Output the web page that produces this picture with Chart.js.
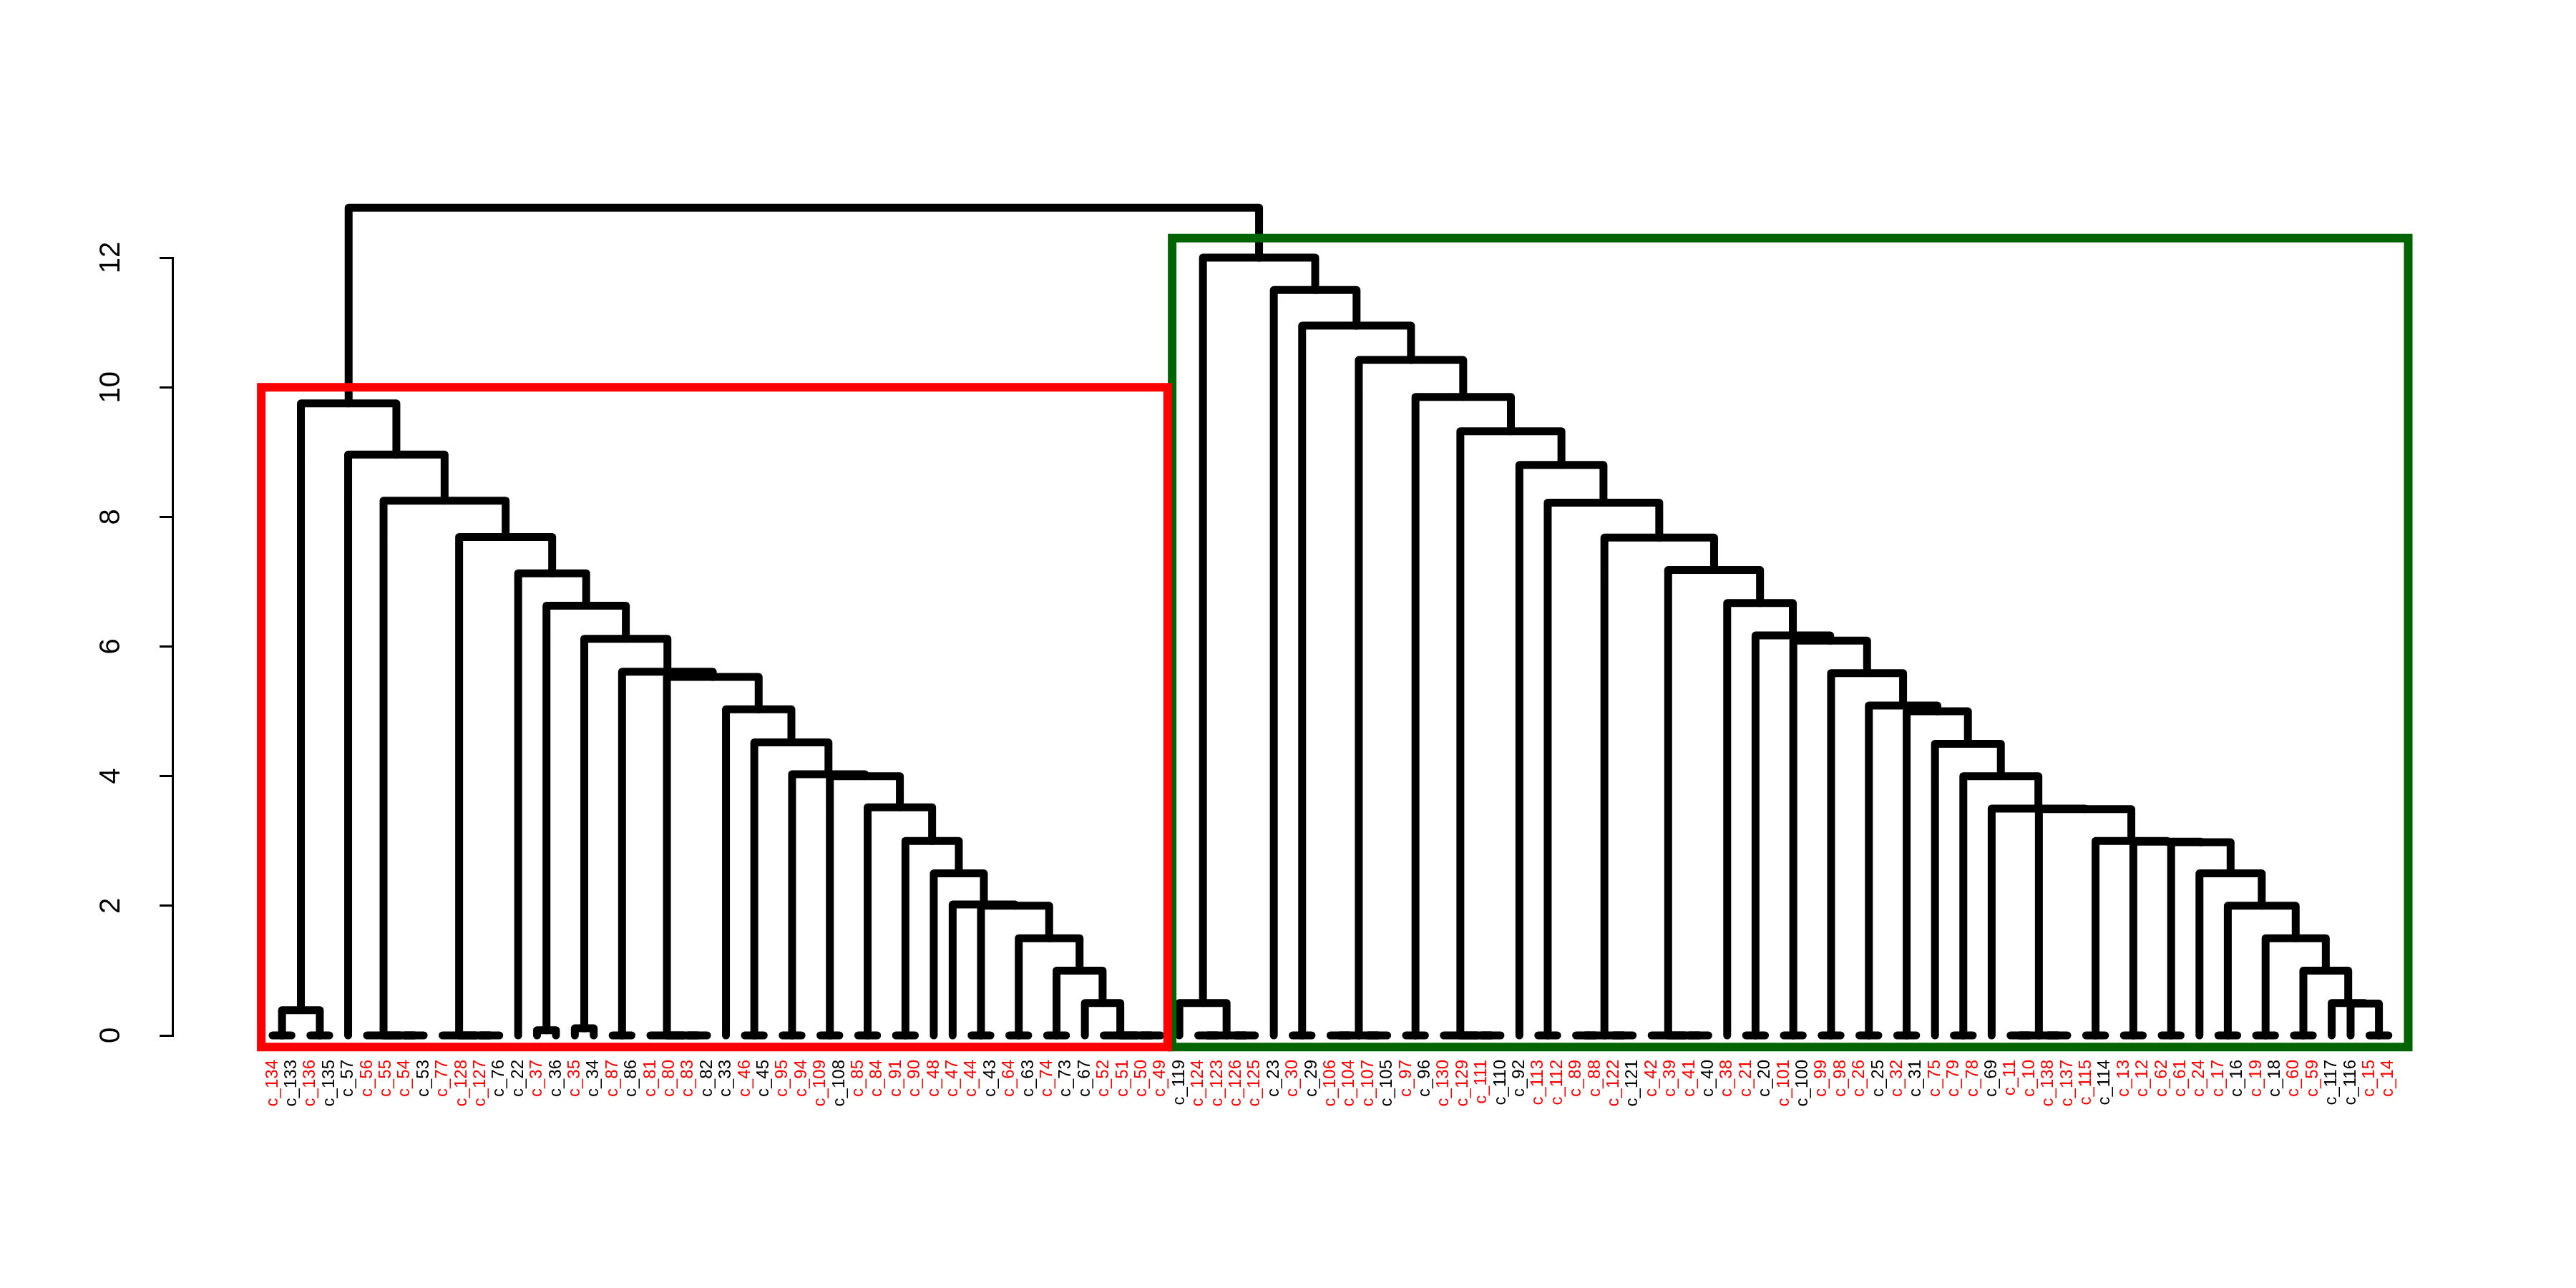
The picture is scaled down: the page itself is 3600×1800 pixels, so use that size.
<!DOCTYPE html>
<html>
<head>
<meta charset="utf-8">
<script src="https://cdn.jsdelivr.net/npm/chart.js@4.4.1/dist/chart.umd.min.js"></script>
<style>
  html, body { margin: 0; padding: 0; background: #fff; }
  canvas { display: block; }
</style>
</head>
<body>
<canvas id="dendro" width="3600" height="1800"></canvas>
<script>
// Hojas en el orden del dendrograma
const leafLabels = [
  'c_134','c_133','c_136','c_135','c_57','c_56','c_55','c_54','c_53','c_77',
  'c_128','c_127','c_76','c_22','c_37','c_36','c_35','c_34','c_87','c_86',
  'c_81','c_80','c_83','c_82','c_33','c_46','c_45','c_95','c_94','c_109',
  'c_108','c_85','c_84','c_91','c_90','c_48','c_47','c_44','c_43','c_64',
  'c_63','c_74','c_73','c_67','c_52','c_51','c_50','c_49',
  'c_119','c_124','c_123','c_126','c_125','c_23','c_30','c_29','c_106','c_104',
  'c_107','c_105','c_97','c_96','c_130','c_129','c_111','c_110','c_92','c_113',
  'c_112','c_89','c_88','c_122','c_121','c_42','c_39','c_41','c_40','c_38',
  'c_21','c_20','c_101','c_100','c_99','c_98','c_26','c_25','c_32','c_31',
  'c_75','c_79','c_78','c_69','c_11','c_10','c_138','c_137','c_115','c_114',
  'c_13','c_12','c_62','c_61','c_24','c_17','c_16','c_19','c_18','c_60',
  'c_59','c_117','c_116','c_15','c_14'
];

// etiquetas en negro (el resto va en rojo)
const blackLabels = ['c_133','c_135','c_57','c_53','c_76','c_22','c_36','c_34','c_86','c_82',
  'c_33','c_45','c_108','c_43','c_63','c_73','c_67','c_119','c_23','c_29','c_105','c_96',
  'c_110','c_92','c_121','c_40','c_20','c_100','c_25','c_31','c_69','c_114','c_16','c_18',
  'c_117','c_116'];

const yTicks = [0, 2, 4, 6, 8, 10, 12];

// Nodos: [altura, izquierda, derecha]
// grupo rojo
const rA   = [0.39, [0, 'c_134', 'c_133'], [0, 'c_136', 'c_135']];
const r56  = [0, 'c_56', [0, 'c_55', [0, 'c_54', 'c_53']]];
const r77  = [0, 'c_77', [0, 'c_128', [0, 'c_127', 'c_76']]];
const r81  = [0, 'c_81', [0, 'c_80', [0, 'c_83', 'c_82']]];
const r52  = [0, 'c_52', [0, 'c_51', [0, 'c_50', 'c_49']]];
const r050 = [0.5, 'c_67', r52];
const r100 = [1.0, [0, 'c_74', 'c_73'], r050];
const r150 = [1.5, [0, 'c_64', 'c_63'], r100];
const r200 = [2.0, [0, 'c_44', 'c_43'], r150];
const r202 = [2.02, 'c_47', r200];
const r250 = [2.5, 'c_48', r202];
const r300 = [3.0, [0, 'c_91', 'c_90'], r250];
const r352 = [3.52, [0, 'c_85', 'c_84'], r300];
const r400 = [4.0, [0, 'c_109', 'c_108'], r352];
const r403 = [4.03, [0, 'c_95', 'c_94'], r400];
const r452 = [4.52, [0, 'c_46', 'c_45'], r403];
const r503 = [5.03, 'c_33', r452];
const r553 = [5.53, r81, r503];
const r561 = [5.61, [0, 'c_87', 'c_86'], r553];
const r612 = [6.12, [0.11, 'c_35', 'c_34'], r561];
const r663 = [6.63, [0.08, 'c_37', 'c_36'], r612];
const r713 = [7.13, 'c_22', r663];
const r769 = [7.69, r77, r713];
const r825 = [8.25, r56, r769];
const r896 = [8.96, 'c_57', r825];
const redTop = [9.75, rA, r896];

// grupo verde
const g119 = [0.5, 'c_119', [0, [0, 'c_124', 'c_123'], [0, 'c_126', 'c_125']]];
const g106 = [0, [0, 'c_106', 'c_104'], [0, 'c_107', 'c_105']];
const g130 = [0, 'c_130', [0, 'c_129', [0, 'c_111', 'c_110']]];
const g89  = [0, [0, 'c_89', 'c_88'], [0, 'c_122', 'c_121']];
const g42  = [0, 'c_42', [0, 'c_39', [0, 'c_41', 'c_40']]];
const g11  = [0, [0, 'c_11', 'c_10'], [0, 'c_138', 'c_137']];
const g049 = [0.49, 'c_116', [0, 'c_15', 'c_14']];
const g050 = [0.5, 'c_117', g049];
const g100 = [1.0, [0, 'c_60', 'c_59'], g050];
const g150 = [1.5, [0, 'c_19', 'c_18'], g100];
const g200 = [2.0, [0, 'c_17', 'c_16'], g150];
const g250 = [2.5, 'c_24', g200];
const g298 = [2.98, [0, 'c_62', 'c_61'], g250];
const g299 = [2.99, [0, 'c_13', 'c_12'], g298];
const g300 = [3.0, [0, 'c_115', 'c_114'], g299];
const g349 = [3.49, g11, g300];
const g350 = [3.5, 'c_69', g349];
const g400 = [4.0, [0, 'c_79', 'c_78'], g350];
const g450 = [4.5, 'c_75', g400];
const g500 = [5.0, [0, 'c_32', 'c_31'], g450];
const g509 = [5.09, [0, 'c_26', 'c_25'], g500];
const g559 = [5.59, [0, 'c_99', 'c_98'], g509];
const g609 = [6.09, [0, 'c_101', 'c_100'], g559];
const g617 = [6.17, [0, 'c_21', 'c_20'], g609];
const g667 = [6.67, 'c_38', g617];
const g718 = [7.18, g42, g667];
const g768 = [7.68, g89, g718];
const g822 = [8.22, [0, 'c_113', 'c_112'], g768];
const g880 = [8.8, 'c_92', g822];
const g932 = [9.32, g130, g880];
const g985 = [9.85, [0, 'c_97', 'c_96'], g932];
const g1042 = [10.42, g106, g985];
const g1095 = [10.95, [0, 'c_30', 'c_29'], g1042];
const g1150 = [11.5, 'c_23', g1095];
const grnTop = [12.0, g119, g1150];

const rootNode = [12.77, redTop, grnTop];

// cajas de los dos grupos
const clusterBoxes = [
  { first: 'c_134', last: 'c_49', top: 10.0 },
  { first: 'c_119', last: 'c_14', top: 12.3 }
];
const boxColors = ['#ff0000', '#006400'];
const boxPad = [[0.6, 0.38], [0.38, 1.05]];
const boxBottom = -0.18;

// Construir segmentos del dendrograma
const segments = [];
function layout(node) {
  if (typeof node === 'string') return { x: leafLabels.indexOf(node), y: 0 };
  const [h, a, b] = node;
  const l = layout(a), r = layout(b);
  segments.push([{ x: l.x, y: l.y }, { x: l.x, y: h }, { x: r.x, y: h }, { x: r.x, y: r.y }]);
  return { x: (l.x + r.x) / 2, y: h };
}
layout(rootNode);

const boxSets = clusterBoxes.map((b, i) => {
  const x0 = leafLabels.indexOf(b.first) - boxPad[i][0];
  const x1 = leafLabels.indexOf(b.last) + boxPad[i][1];
  return {
    data: [{ x: x0, y: boxBottom }, { x: x0, y: b.top }, { x: x1, y: b.top },
           { x: x1, y: boxBottom }, { x: x0, y: boxBottom }],
    showLine: true, borderColor: boxColors[i], borderWidth: 12, pointRadius: 0,
    borderCapStyle: 'square', borderJoinStyle: 'miter', clip: false
  };
});

const treeSets = segments.map(pts => ({
  data: pts, showLine: true, borderColor: '#000', borderWidth: 11, pointRadius: 0,
  borderCapStyle: 'round', borderJoinStyle: 'round', clip: false
}));

new Chart(document.getElementById('dendro'), {
  type: 'scatter',
  data: { datasets: [...boxSets, ...treeSets] },
  options: {
    responsive: false,
    animation: false,
    devicePixelRatio: 1,
    layout: { padding: { top: 360, right: 183, bottom: 153, left: 0 } },
    plugins: { legend: { display: false }, tooltip: { enabled: false } },
    scales: {
      x: {
        type: 'linear', min: -5.3, max: 115,
        grid: { display: false, drawTicks: false },
        border: { display: false },
        afterBuildTicks: s => { s.ticks = leafLabels.map((_, i) => ({ value: i })); },
        afterFit: s => { s.height = 200; },
        ticks: {
          autoSkip: false, minRotation: 90, maxRotation: 90, padding: 34,
          font: { family: 'Liberation Sans', size: 24 },
          color: ctx => blackLabels.includes(leafLabels[ctx.index]) ? '#000' : '#ff0000',
          callback: v => leafLabels[v]
        }
      },
      y: {
        type: 'linear', min: 0, max: 12,
        afterBuildTicks: s => { s.ticks = yTicks.map(v => ({ value: v })); },
        afterFit: s => { s.width = 241; },
        grid: { drawOnChartArea: false, drawTicks: true, tickLength: 18, color: '#000', lineWidth: 3 },
        border: { display: true, color: '#000', width: 3 },
        ticks: {
          minRotation: 90, maxRotation: 90, crossAlign: 'center', padding: 45,
          font: { family: 'Liberation Sans', size: 40 }, color: '#000'
        }
      }
    }
  }
});
</script>
</body>
</html>
